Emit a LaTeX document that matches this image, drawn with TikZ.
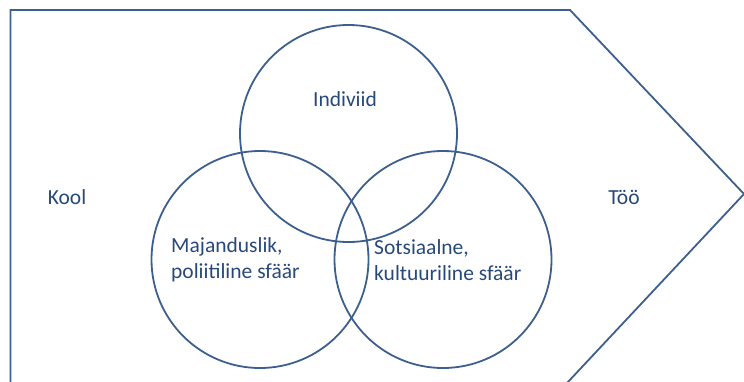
\documentclass[tikz,border=0pt]{standalone}
\usepackage{fontspec}
\setmainfont{Carlito}
\definecolor{ringblue}{HTML}{3C5F8E}
\definecolor{textblue}{HTML}{27497A}
\begin{document}
\begin{tikzpicture}[x=1pt,y=-1pt,
  ring/.style={circle,draw=ringblue,line width=1.8pt,minimum size=217pt,inner sep=0pt},
  label/.style={text=textblue,inner sep=0pt,font=\fontsize{21.5}{26}\selectfont,align=left}]
\useasboundingbox (0,0) rectangle (744,381);
% arrow-shaped frame, open at the bottom
\coordinate (bl) at (10.5,383);
\coordinate (tl) at (10.5,10);
\coordinate (tr) at (570,10);
\coordinate (tip) at (744,194);
\coordinate (br) at (567,383);
\draw[ringblue,line width=1.8pt,line join=miter] (bl) -- (tl) -- (tr) -- (tip) -- (br);
% three rings
\node [ring] (ind) at (348.5,133.5) {};
\node [ring] (maj) at (260,259.5) {};
\node [ring] (sots) at (443,259.5) {};
% texts
\node [label] (indt) at (345,99) {Indiviid};
\node [label] (kool) at (67,197) {Kool};
\node [label] (too) at (624,197) {Töö};
\node [label,anchor=west] (majt) at (171,260) {Majanduslik,\\poliitiline sfäär};
\node [label,anchor=west] (sotst) at (374,260) {Sotsiaalne,\\kultuuriline sfäär};
\end{tikzpicture}
\end{document}
